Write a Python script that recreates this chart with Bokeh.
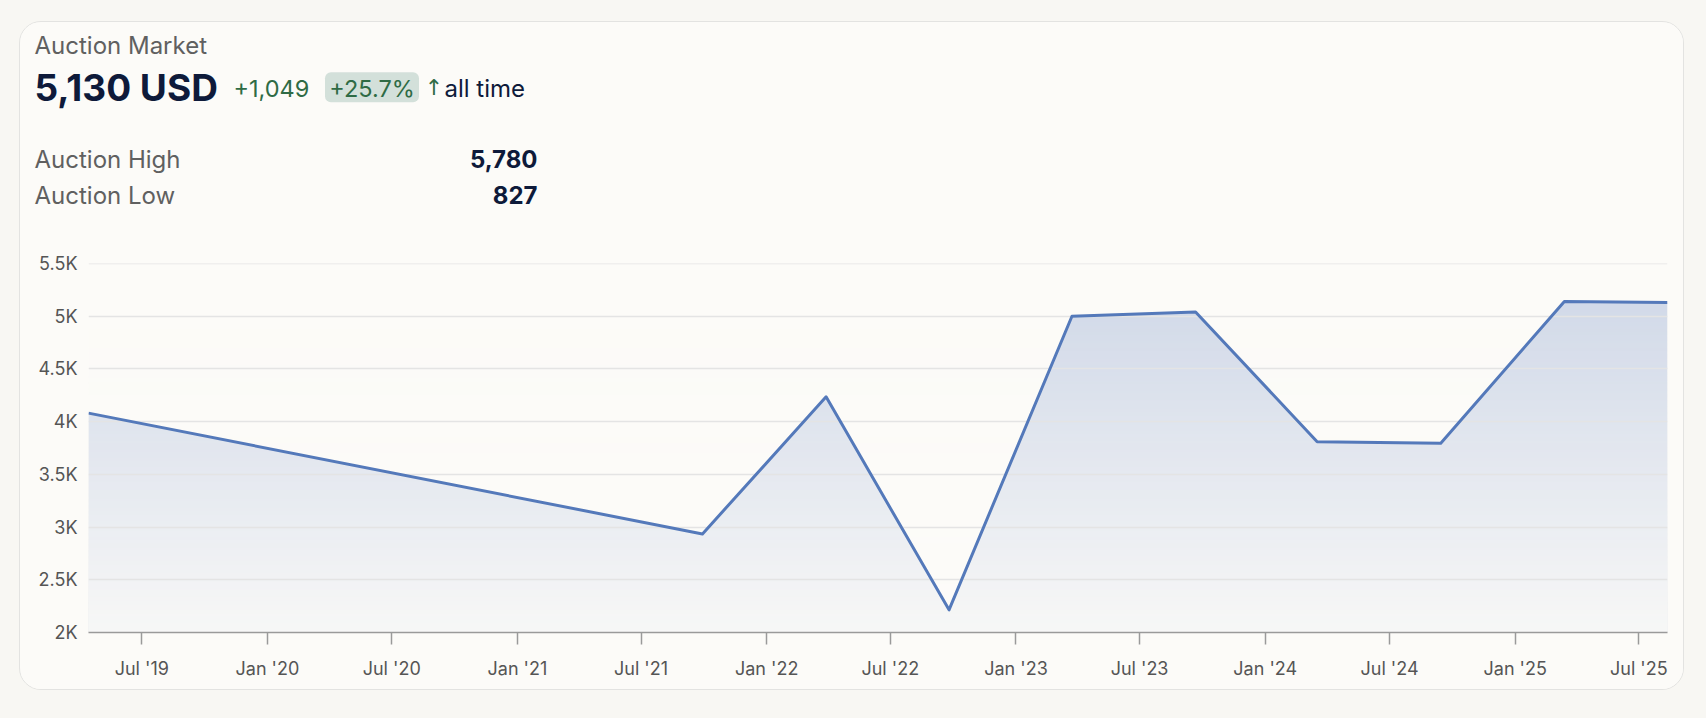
import numpy as np
import pandas as pd
from bokeh.plotting import figure
from bokeh.layouts import column
from bokeh.models import Range1d, FixedTicker, MonthsTicker, DatetimeTickFormatter
from bokeh.core.properties import value
from bokeh.embed import file_html
from bokeh.resources import INLINE

# ---------------- data ----------------
dates = ["2019-04-14", "2021-09-29", "2022-03-29", "2022-09-25", "2023-03-24",
         "2023-09-21", "2024-03-17", "2024-09-14", "2025-03-14", "2025-08-12"]
prices = [4081, 2935, 4235, 2215, 5000, 5040, 3810, 3795, 5140, 5130]
y_ticks = [2000, 2500, 3000, 3500, 4000, 4500, 5000, 5500]
y_tick_labels = ["2K", "2.5K", "3K", "3.5K", "4K", "4.5K", "5K", "5.5K"]

title = "Auction Market"
currency = "USD"
current_value = 5130
change_value = 1049
change_pct = 25.7
period = "all time"
stat_names = ["Auction High", "Auction Low"]
stat_values = [5780, 827]

# ---------------- styles ----------------
PAGE = "#f8f7f3"
CARD = "#fcfbf8"
CARD_RGB = (252, 251, 248)
BORDER = "#e3e3e1"
GRAY = "#606060"
NAVY = "#0e1a3a"
GREEN = "#2f6b45"
BADGE = "#d3e0da"
BLUE = "#5479ba"
AXIS = "#9a9a9a"
GRID = "#e4e4e4"
FONT = "Inter"

W = 1663
HEADER_H = 210
CHART_H = 457

x = pd.to_datetime(dates)

# ---------------- header ----------------
hf = figure(width=W, height=HEADER_H, x_range=Range1d(0, W), y_range=Range1d(HEADER_H, 0),
            output_backend="svg", toolbar_location=None, min_border=0,
            min_border_left=0, min_border_right=0, min_border_top=0, min_border_bottom=0,
            x_axis_location=None, y_axis_location=None,
            background_fill_color=CARD, border_fill_color=CARD, outline_line_color=None)
hf.grid.visible = False
hf.frame_align = False


def htext(xs, ys, texts, size, color, bold=False, align="left", font=FONT):
    hf.text(x=xs, y=ys, text=texts, text_font=value(font), text_font_size=size,
            text_font_style="bold" if bold else "normal", text_color=color,
            text_baseline="middle", text_align=align)


htext([14], [23.2], [title], "24px", GRAY)
htext([14], [64.5], [f"{current_value:,} {currency}"], "37px", NAVY, bold=True)
htext([213], [65.8], [f"+{change_value:,}"], "23.5px", GREEN)
hf.rect(x=[351.5], y=[64.8], width=[94], height=[30], fill_color=BADGE, line_color=None,
        border_radius=6)
htext([351.5], [65.8], [f"+{change_pct}%"], "23.5px", GREEN, align="center")
htext([413.5], [65.3], ["\u2191"], "22px", GREEN, align="center", font="DejaVu Sans")
htext([424], [65.8], [period], "24px", NAVY)
htext([14, 14], [136.5, 172.7], stat_names, "24px", GRAY)
htext([517, 517], [136.5, 172.7], [f"{v:,}" for v in stat_values], "24px", NAVY,
      bold=True, align="right")

# ---------------- chart ----------------
y0, y1 = y_ticks[0], y_ticks[-1]
p = figure(width=W, height=CHART_H, x_axis_type="datetime",
           x_range=Range1d(x[0], x[-1]), y_range=Range1d(y0, y1),
           output_backend="svg", toolbar_location=None,
           min_border_left=68, min_border_right=16, min_border_top=31, min_border_bottom=57,
           background_fill_color=CARD, border_fill_color=CARD, outline_line_color=None)
p.frame_align = False
p.xgrid.visible = False
p.ygrid.visible = False

# area: solid tint, then a vertical background-coloured fade image on top (gradient)
base_alpha = 0.25
p.varea(x=x, y1=y0, y2=prices, fill_color=BLUE, fill_alpha=base_alpha)
ymax = max(prices)
ROWS = 400
t = (np.arange(ROWS) + 0.5) / ROWS            # 0 at bottom, 1 at top of series
keep = (0.03 + 0.22 * t) / base_alpha          # fraction of tint that remains
fade = np.empty((ROWS, 1), dtype=np.uint32)
view = fade.view(dtype=np.uint8).reshape((ROWS, 1, 4))
view[:, 0, 0] = CARD_RGB[0]
view[:, 0, 1] = CARD_RGB[1]
view[:, 0, 2] = CARD_RGB[2]
view[:, 0, 3] = np.round(255 * (1 - keep)).astype(np.uint8)
span_ms = (x[-1] - x[0]).total_seconds() * 1000.0
p.image_rgba(image=[fade], x=[x[0]], y=[y0], dw=[span_ms], dh=[ymax - y0])

p.hspan(y=y_ticks[1:], line_color=GRID, line_width=1.5)
p.line(x=x, y=prices, line_color=BLUE, line_width=3, line_join="round")

xa = p.xaxis[0]
xa.ticker = MonthsTicker(months=[0, 6])
xa.formatter = DatetimeTickFormatter(months="%b '%y", years="%b '%y", days="%b '%y")
xa.axis_line_color = AXIS
xa.axis_line_width = 1.5
xa.major_tick_line_color = AXIS
xa.major_tick_line_width = 1.5
xa.major_tick_in = 0
xa.major_tick_out = 12
xa.minor_tick_line_color = None
xa.major_label_standoff = 13
xa.major_label_text_font = FONT
xa.major_label_text_font_size = "18px"
xa.major_label_text_color = "#555555"

ya = p.yaxis[0]
ya.ticker = FixedTicker(ticks=y_ticks)
ya.major_label_overrides = {t_: l for t_, l in zip(y_ticks, y_tick_labels)}
ya.axis_line_color = None
ya.major_tick_line_color = None
ya.minor_tick_line_color = None
ya.major_tick_out = 0
ya.major_tick_in = 0
ya.major_label_standoff = 11
ya.major_label_text_font = FONT
ya.major_label_text_font_size = "18px"
ya.major_label_text_color = "#555555"

card = column(hf, p, margin=(21, 0, 0, 19),
              styles={"border": f"1.5px solid {BORDER}", "border-radius": "22px",
                      "background-color": CARD, "overflow": "hidden"})

html = file_html(card, INLINE)
html = html.replace("</head>",
                    f"<style>html, body {{ background-color: {PAGE}; margin: 0; }}</style></head>", 1)
open("out.html", "w").write(html)
